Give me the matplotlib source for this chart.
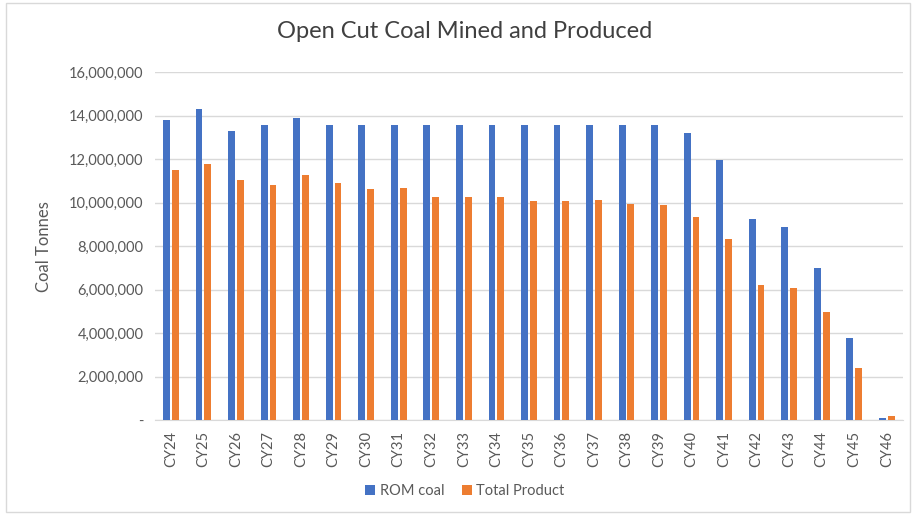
import numpy as np
import matplotlib.pyplot as plt
from matplotlib.ticker import FuncFormatter
from matplotlib.patches import Rectangle

plt.rcParams['font.family'] = ['Lato', 'DejaVu Sans']

years = ['CY24', 'CY25', 'CY26', 'CY27', 'CY28', 'CY29', 'CY30', 'CY31', 'CY32',
         'CY33', 'CY34', 'CY35', 'CY36', 'CY37', 'CY38', 'CY39', 'CY40', 'CY41',
         'CY42', 'CY43', 'CY44', 'CY45', 'CY46']
rom_coal = [13820000, 14320000, 13300000, 13570000, 13880000, 13570000, 13570000,
            13570000, 13570000, 13570000, 13570000, 13570000, 13570000, 13570000,
            13570000, 13550000, 13200000, 11970000, 9240000, 8860000, 7000000,
            3800000, 80000]
total_product = [11510000, 11790000, 11060000, 10800000, 11280000, 10890000, 10630000,
                 10680000, 10260000, 10260000, 10260000, 10080000, 10080000, 10140000,
                 9950000, 9880000, 9350000, 8340000, 6220000, 6080000, 4970000,
                 2420000, 200000]

blue = '#4472C4'
orange = '#ED7D31'
grey = '#595959'

fig = plt.figure(figsize=(9.15, 5.15), dpi=100)
ax = fig.add_axes([0.169, 0.184, 0.818, 0.676])

x = np.arange(len(years))
w = 0.21
ax.bar(x - 0.135, rom_coal, w, color=blue, label='ROM coal', zorder=3)
ax.bar(x + 0.135, total_product, w, color=orange, label='Total Product', zorder=3)

ax.set_xlim(-0.5, len(years) - 0.5)
ax.set_ylim(0, 16000000)
ax.set_yticks(np.arange(0, 16000001, 2000000))
ax.yaxis.set_major_formatter(FuncFormatter(lambda v, p: '-' if v == 0 else f'{v:,.0f}'))
ax.set_xticks(x)
ax.set_xticklabels(years, rotation=90)
ax.grid(axis='y', color='#d9d9d9', linewidth=1, zorder=0)
for s in ['top', 'right', 'left']:
    ax.spines[s].set_visible(False)
ax.spines['bottom'].set_color('#d9d9d9')
ax.tick_params(axis='both', length=0, labelsize=10.5, colors=grey, pad=8)
ax.set_ylabel('Coal Tonnes', fontsize=12, color=grey, labelpad=12)

fig.suptitle('Open Cut Coal Mined and Produced', fontsize=17, color='#404040',
             x=0.508, y=0.96)

fig.legend(loc='center', bbox_to_anchor=(0.508, 0.047), ncol=2, frameon=False,
           fontsize=10.5, handlelength=0.7, handleheight=0.7, handletextpad=0.3,
           columnspacing=1.2, labelcolor=grey)

# light chart-area border
fig.patches.append(Rectangle((0.007, 0.006), 0.988, 0.988, transform=fig.transFigure,
                             fill=False, edgecolor='#d9d9d9', linewidth=1))

fig.savefig('out.png', dpi=100)
